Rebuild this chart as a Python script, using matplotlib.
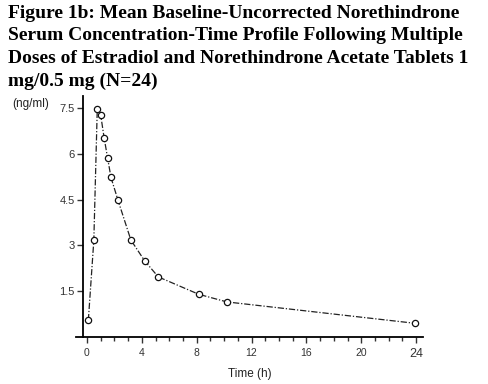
import matplotlib
matplotlib.use("Agg")
import matplotlib.pyplot as plt
from matplotlib.ticker import MultipleLocator

time_h = [0.1, 0.5, 0.75, 1.0, 1.25, 1.5, 1.75, 2.25, 3.2, 4.2, 5.2, 8.15, 10.2, 23.9]
conc = [0.55, 3.17, 7.47, 7.28, 6.53, 5.88, 5.23, 4.5, 3.18, 2.5, 1.97, 1.4, 1.15, 0.45]

yticks = [1.5, 3, 4.5, 6, 7.5]
ytick_labels = ["1.5", "3", "4.5", "6", "7.5"]
xticks = [0, 4, 8, 12, 16, 20, 24]
xtick_labels = ["0", "4", "8", "12", "16", "20", "24"]

title = ("Figure 1b: Mean Baseline-Uncorrected Norethindrone\n"
         "Serum Concentration-Time Profile Following Multiple\n"
         "Doses of Estradiol and Norethindrone Acetate Tablets 1\n"
         "mg/0.5 mg (N=24)")

plt.rcParams["font.family"] = "Liberation Sans"

fig = plt.figure(figsize=(4.88, 3.84), dpi=100)
ax = fig.add_axes([76 / 488, 1 - 337 / 384, (423 - 76) / 488, (337 - 96) / 384])

ax.plot(time_h, conc, color="#222222", lw=0.9, linestyle=(0, (5, 1.5, 1, 1.5)),
        marker="o", markersize=4.5, markerfacecolor="white",
        markeredgecolor="#111111", markeredgewidth=0.9)

ax.set_xlim(-0.8, 24.5)
ax.set_ylim(0, 7.9)
ax.spines["top"].set_visible(False)
ax.spines["right"].set_visible(False)
ax.spines["left"].set_position(("data", -0.3))
ax.spines["left"].set_linewidth(1.3)
ax.spines["bottom"].set_linewidth(1.3)

ax.set_xticks(xticks)
ax.set_xticklabels(xtick_labels)
ax.xaxis.set_minor_locator(MultipleLocator(1))
ax.set_yticks(yticks)
ax.set_yticklabels(ytick_labels)
ax.tick_params(axis="both", which="major", direction="out", length=4, width=1,
               colors="#333333", pad=2)
ax.tick_params(axis="y", labelsize=8)
ax.tick_params(axis="x", labelsize=7.5, pad=4)
ax.tick_params(axis="x", which="minor", direction="out", length=3, width=1,
               colors="#333333")
ax.get_xticklabels()[-1].set_fontsize(9)

ax.set_xlabel("Time (h)", fontsize=8.5, labelpad=6, color="#222222")
fig.text(12 / 488, 1 - 104 / 384, "(ng/ml)", fontsize=8.5, va="center", ha="left",
         color="#222222")

fig.text(8 / 488, 1 - 5 / 384, title, fontsize=14, fontweight="bold",
         family="Liberation Serif", va="top", ha="left", linespacing=1.42)

fig.savefig("out.png", dpi=100)
